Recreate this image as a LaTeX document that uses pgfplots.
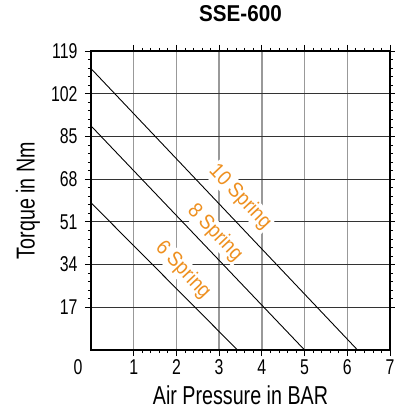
\documentclass[border=0pt]{standalone}
\usepackage{fontspec}
\setmainfont{Liberation Sans}[FakeStretch=0.76]
\newfontfamily\labelfont{Liberation Sans}[FakeStretch=0.9]
\newfontfamily\tickfont{Liberation Sans}[FakeStretch=0.74]
\usepackage{pgfplots}
\pgfplotsset{compat=1.18}
\definecolor{springorange}{HTML}{EE9020}

\begin{document}
\begin{tikzpicture}
\begin{axis}[
    name=ax,
    width=299bp, height=299bp, scale only axis,
    xmin=0, xmax=7, ymin=0, ymax=119,
    xtick={1,...,7},
    ytick={17,34,51,68,85,102,119},
    minor x tick num=4,
    minor y tick num=4,
    tick align=outside,
    tick style={black, line width=0.8pt},
    major tick length=6bp,
    minor tick length=3bp,
    grid=major,
    x grid style={gray!80, line width=1.3pt},
    y grid style={black!80, line width=1pt},
    axis line style={black, line width=1.2pt},
    ticklabel style={font=\tickfont\fontsize{21.5}{21.5}\selectfont},
    yticklabel style={xshift=-4bp},
    /pgf/number format/assume math mode=true,
    xlabel={Air Pressure in BAR},
    ylabel={Torque in Nm},
    label style={font=\fontsize{26}{26}\selectfont},
    xlabel style={at={(axis description cs:0.5,-0.150)}, anchor=center},
    ylabel style={at={(axis description cs:-0.211,0.5)}, anchor=center},
    title={\labelfont\bfseries SSE-600},
    title style={font=\fontsize{23}{23}\selectfont, at={(axis description cs:0.5,1.077)}, anchor=base},
    clip=false,
]
\addplot[black, line width=0.9pt] coordinates {(0,112) (6.24,0)};
\addplot[black, line width=0.9pt] coordinates {(0,89.2) (5.0,0)};
\addplot[black, line width=0.9pt] coordinates {(0,58.6) (3.43,0)};

\node[fill=white, inner sep=1pt, text=springorange, rotate=-46.5,
      font=\labelfont\fontsize{21}{21}\selectfont] at (axis cs:3.49,60.9) {10 Spring};
\node[fill=white, inner sep=1pt, text=springorange, rotate=-46.5,
      font=\labelfont\fontsize{21}{21}\selectfont] at (axis cs:2.90,46.6) {8 Spring};
\node[fill=white, inner sep=1pt, text=springorange, rotate=-46.5,
      font=\labelfont\fontsize{21}{21}\selectfont] at (axis cs:2.15,31.8) {6 Spring};

\node[anchor=north, font=\tickfont\fontsize{21.5}{21.5}\selectfont] at ([xshift=-13bp,yshift=-6bp]rel axis cs:0,0) {0};
\end{axis}
\pgfresetboundingbox
\path ([xshift=-91bp,yshift=-61bp]ax.south west) rectangle ([xshift=5bp,yshift=51bp]ax.north east);
\end{tikzpicture}
\end{document}
